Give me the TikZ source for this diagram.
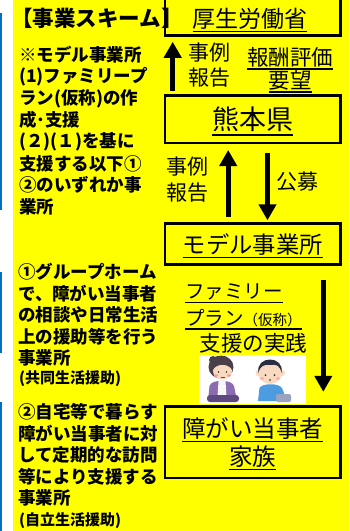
\documentclass[tikz,border=0pt]{standalone}
\usepackage{fontspec}
\newfontfamily\jp{Noto Sans CJK JP}
\usetikzlibrary{arrows.meta}
\definecolor{panel}{HTML}{FFFF00}
\definecolor{rail}{HTML}{0070C0}
\definecolor{skin}{HTML}{F9D9C0}
\definecolor{hairA}{HTML}{4B4049}
\definecolor{hairB}{HTML}{2B2D42}
\definecolor{cardigan}{HTML}{8C6BB0}
\definecolor{lap}{HTML}{5E4A7E}
\definecolor{shirt}{HTML}{4D9BE0}
\definecolor{pants}{HTML}{9AA4BE}
% underline drawn as a rule under the text, not affecting the box size
\newsavebox\ulsave
\newcommand\ulx[1]{\sbox\ulsave{#1}\rlap{\raisebox{-0.22em}[0pt][0pt]{\rule{\wd\ulsave}{0.065em}}}\usebox\ulsave}
\newcommand\jfs[1]{\fontsize{#1}{#1}\selectfont}
\begin{document}
\begin{tikzpicture}[x=1pt,y=-1pt,
  box/.style={draw=black, line width=2.8pt, outer sep=0pt, inner sep=0pt,
              minimum width=175.5pt},
  arr/.style={line width=5pt, -{Triangle[width=17pt,length=16pt]}},
  lbl/.style={inner sep=0pt, font=\jp\jfs{#1}},
  lbl/.default=21,
  side/.style={inner sep=0pt, anchor=west, font=\jp\bfseries\jfs{17.5}},
  sidesmall/.style={inner sep=0pt, anchor=west, font=\jp\bfseries\jfs{15}}]

% canvas
\fill[white] (0,0) rectangle (349,531);
\fill[panel] (12.7,0) rectangle (349,531);
\fill[rail] (0,13) rectangle (2,210);
\fill[rail] (0,272) rectangle (2,353);
\fill[rail] (0,402) rectangle (2,531);
\useasboundingbox (0,0) rectangle (349,531);

% title
\node[inner sep=0pt, anchor=west, font=\jp\bfseries\jfs{21.5}] (title) at (11,18) {【事業スキーム】};

% left-hand notes
\foreach \t [count=\i] in {※モデル事業所, {(1)ファミリープ}, {ラン(仮称)の作}, 成･支援,
  {(２)(１)を基に}, 支援する以下①, ②のいずれか事, 業所}
  \node[side] (noteA\i) at (19,{55+21.7*(\i-1)}) {\t};

\foreach \t [count=\i] in {①グループホーム, で、障がい当事者, の相談や日常生活,
  上の援助等を行う, 事業所}
  \node[side] (noteB\i) at (18,{272+21.5*(\i-1)}) {\t};
\node[sidesmall] (noteB6) at (19,379) {(共同生活援助)};

\foreach \t [count=\i] in {②自宅等で暮らす, 障がい当事者に対, して定期的な訪問,
  等により支援する, 事業所}
  \node[side] (noteC\i) at (18,{412+21.5*(\i-1)}) {\t};
\node[sidesmall] (noteC6) at (19,521) {(自立生活援助)};

% boxes
\node[box, minimum height=45.5pt] (mhlw) at (252.75,12.6) {};
\node[lbl=23] (mhlwt) at (250,18.5) {\ulx{厚生労働省}};
\node[box, minimum height=47.2pt, font=\jp\jfs{27}] (pref) at (252.75,119.4) {\ulx{熊本県}};
\node[box, minimum height=41pt, font=\jp\jfs{23.3}] (model) at (252.75,244.3) {\ulx{モデル事業所}};
\node[box, minimum height=71.7pt, align=center, font=\jp\fontsize{23.5}{28}\selectfont]
  (family) at (252.75,442.15) {\ulx{障がい当事者}\\\ulx{家族}};

% arrows
\draw[arr, shorten <=5pt, shorten >=6.4pt] ([xshift=7.7pt]pref.north west) -- ([xshift=7.7pt]mhlw.south west);
\draw[arr, shorten <=7pt, shorten >=7pt] ([xshift=63.2pt]model.north west) -- ([xshift=63.2pt]pref.south west);
\draw[arr, shorten <=10pt, shorten >=3.5pt] ([xshift=102.5pt]pref.south west) -- ([xshift=102.5pt]model.north west);
\draw[arr, shorten <=15pt, shorten >=14.5pt] ([xshift=158.3pt]model.south west) -- ([xshift=158.3pt]family.north west);

% arrow labels
\node[inner sep=0pt, align=center, font=\jp\fontsize{21}{25}\selectfont] (rep1) at (209,65.5) {事例\\報告};
\node[inner sep=0pt, align=center, font=\jp\fontsize{21.5}{23}\selectfont] (req) at (290,68.5) {\ulx{報酬評価}\\\ulx{要望}};
\node[inner sep=0pt, align=center, font=\jp\fontsize{21}{26}\selectfont] (rep2) at (187,180) {事例\\報告};
\node[lbl=21] (recruit) at (297,182) {公募};

% plan text
\node[lbl=19.5, anchor=west] (plan1) at (185,292) {\ulx{ファミリー}};
\node[lbl=19.5, anchor=west] (plan2) at (185,318) {\ulx{プラン{\jfs{14.5}（仮称）}}};
\node[lbl=21.5] (practice) at (253.5,343) {支援の実践};

% illustration: carer and child seated side by side
\fill[white] (199,355) rectangle (306,404);
% carer
\fill[hairA] (221,367) ellipse (12.5 and 11.5);
\fill[hairA] (213,360) circle (4);
\fill[cardigan] (208,401) -- (209.5,386) .. controls (211,379) and (232,379) .. (234,386) -- (237,401) -- cycle;
\fill[white!94!gray] (218.5,381) -- (225.5,381) -- (226.5,397) -- (217.5,397) -- cycle;
\fill[lap, rounded corners=3pt] (207,395) rectangle (239,402);
\fill[skin] (222.5,371) ellipse (9.5 and 8.5);
\fill[hairA] (212.5,370) .. controls (212,358) and (233,358) .. (232.5,370)
  .. controls (228,363) and (217,363) .. cycle;
\fill[black!80] (218.5,372) circle (0.9) (226.5,372) circle (0.9);
\fill[red!40] (216,375.5) ellipse (2 and 1.2) (229,375.5) ellipse (2 and 1.2);
\draw[black!70, line width=0.5pt] (220.5,377) -- (224.5,377);
% child
\fill[shirt] (258,401) -- (259.5,388) .. controls (262,383) and (279,383) .. (282,388) -- (287,401) -- cycle;
\fill[pants, rounded corners=2pt] (276,394) rectangle (291,402);
\fill[skin] (258.5,373) circle (3) (282,373) circle (3);
\fill[skin] (270,372) circle (12);
\fill[hairB] (258.5,373) .. controls (255,355) and (285,355) .. (281.5,373)
  .. controls (280,365) and (276,364) .. (270,365) .. controls (264,364) and (260,366) .. cycle;
\fill[black!80] (265.5,375) circle (1) (274.5,375) circle (1);
\fill[red!35] (262,378.5) ellipse (2 and 1.2) (278,378.5) ellipse (2 and 1.2);
\fill[black!60] (270,380) ellipse (1 and 1.3);
\end{tikzpicture}
\end{document}
